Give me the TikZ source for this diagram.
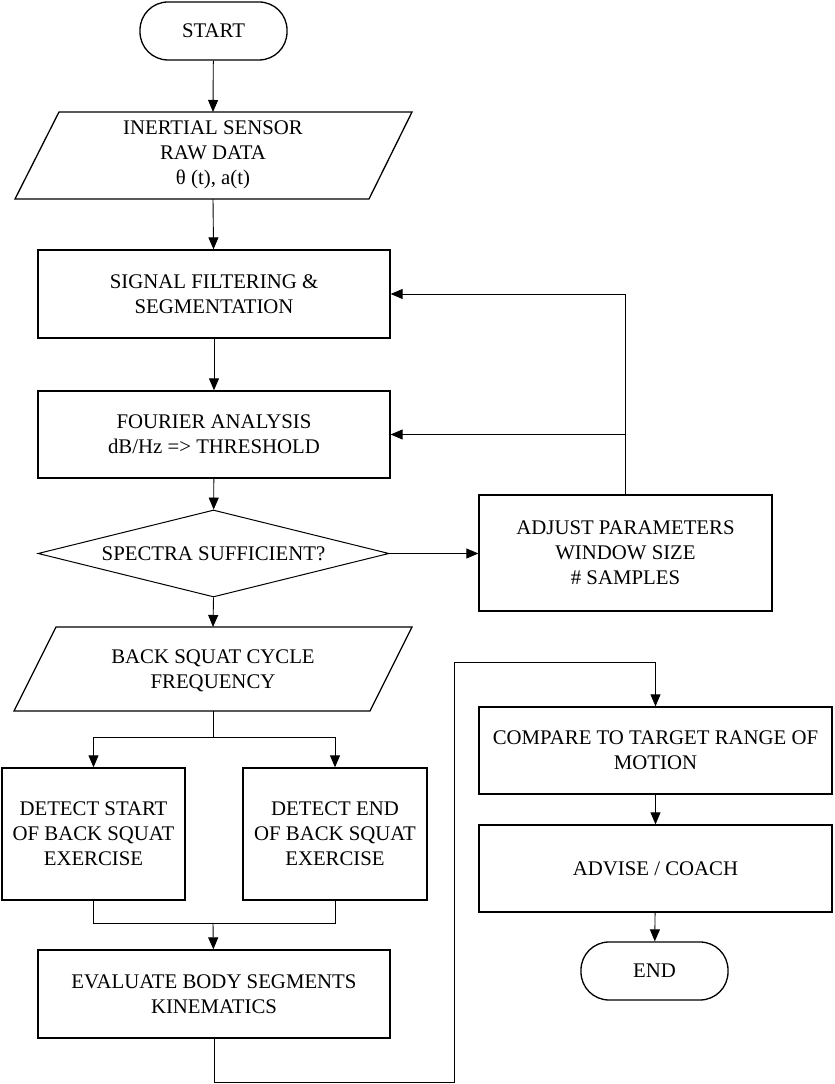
\documentclass[tikz,border=0pt]{standalone}
\usepackage{fontspec}
\setmainfont{Liberation Serif}
\usetikzlibrary{shapes.geometric,arrows.meta}
\begin{document}
\begin{tikzpicture}[x=1pt,y=1pt,
  lbl/.style={align=center,inner sep=0pt,font=\fontsize{20.8}{25}\selectfont},
  box/.style={lbl,draw,line width=1.3pt,rectangle},
  term/.style={box,rounded corners=28pt},
  line/.style={line width=0.9pt},
  arr/.style={line,-{Triangle[length=12pt,width=10pt]}}]
\useasboundingbox (0,0) rectangle (835,1084);

% terminals
\node[term,minimum width=147,minimum height=58] (start) at (213.5,1053) {START};
\node[term,minimum width=147,minimum height=58] (end) at (654.5,113) {END};

% input parallelogram 1
\draw[line width=1.3pt] (59,972) -- (412,972) -- (369,885) -- (15,885) -- cycle;
\node[lbl] (in1) at (213,929) {INERTIAL SENSOR\\RAW DATA\\θ (t), a(t)};
\coordinate (in1t) at (213,972);
\coordinate (in1b) at (213,885);

% processes
\node[box,minimum width=352,minimum height=88] (sig) at (214,790) {SIGNAL FILTERING \&\\SEGMENTATION};
\node[box,minimum width=352,minimum height=87] (four) at (214,649.5) {FOURIER ANALYSIS\\dB/Hz => THRESHOLD};
\node[box,shape=diamond,aspect=4,line width=1pt,minimum width=351,minimum height=87] (dia) at (213.5,530.5) {SPECTRA SUFFICIENT?};
\node[box,minimum width=293,minimum height=116] (adj) at (625.5,531) {ADJUST PARAMETERS\\WINDOW SIZE\\\# SAMPLES};

% input parallelogram 2
\draw[line width=1.3pt] (56,457) -- (412,457) -- (370,373) -- (14,373) -- cycle;
\node[lbl] (in2) at (213,413.5) {BACK SQUAT CYCLE\\FREQUENCY};
\coordinate (in2t) at (213,457);
\coordinate (in2b) at (213,373);

\node[box,minimum width=183,minimum height=132] (ds) at (93.5,250) {DETECT START\\OF BACK SQUAT\\EXERCISE};
\node[box,minimum width=184,minimum height=132] (de) at (335,250) {DETECT END\\OF BACK SQUAT\\EXERCISE};
\node[box,minimum width=352,minimum height=88] (ev) at (214,90) {EVALUATE BODY SEGMENTS\\KINEMATICS};
\node[box,minimum width=353,minimum height=87] (cmp) at (655.5,333.5) {COMPARE TO TARGET RANGE OF\\MOTION};
\node[box,minimum width=353,minimum height=87] (adv) at (655.5,215.5) {ADVISE / COACH};

\coordinate (split) at (213,347);
\coordinate (join) at (213,161);
\coordinate (r1) at (454,2);
\coordinate (r2) at (454,422);

% connectors
\draw[arr] (start) -- (in1t);
\draw[arr] (in1b) -- (sig);
\draw[arr] (sig) -- (four);
\draw[arr] (four) -- (dia);
\draw[arr] (dia.east) -- (dia.east -| adj.west);
\draw[arr] (adj.north) |- (sig.east);
\draw[arr] (adj.north |- four.east) -- (four.east);
\draw[arr] (dia.south) -- (in2t);
\draw[line] (in2b) -- (split);
\draw[arr] (split) -| (ds.north);
\draw[arr] (split) -| (de.north);
\draw[line] (ds.south) |- (join);
\draw[line] (de.south) |- (join);
\draw[arr] (join) -- (ev);
\draw[arr] (ev.south) |- (r1) -- (r2) -| (cmp.north);
\draw[arr] (cmp) -- (adv);
\draw[arr] (adv) -- (end);
\end{tikzpicture}
\end{document}
